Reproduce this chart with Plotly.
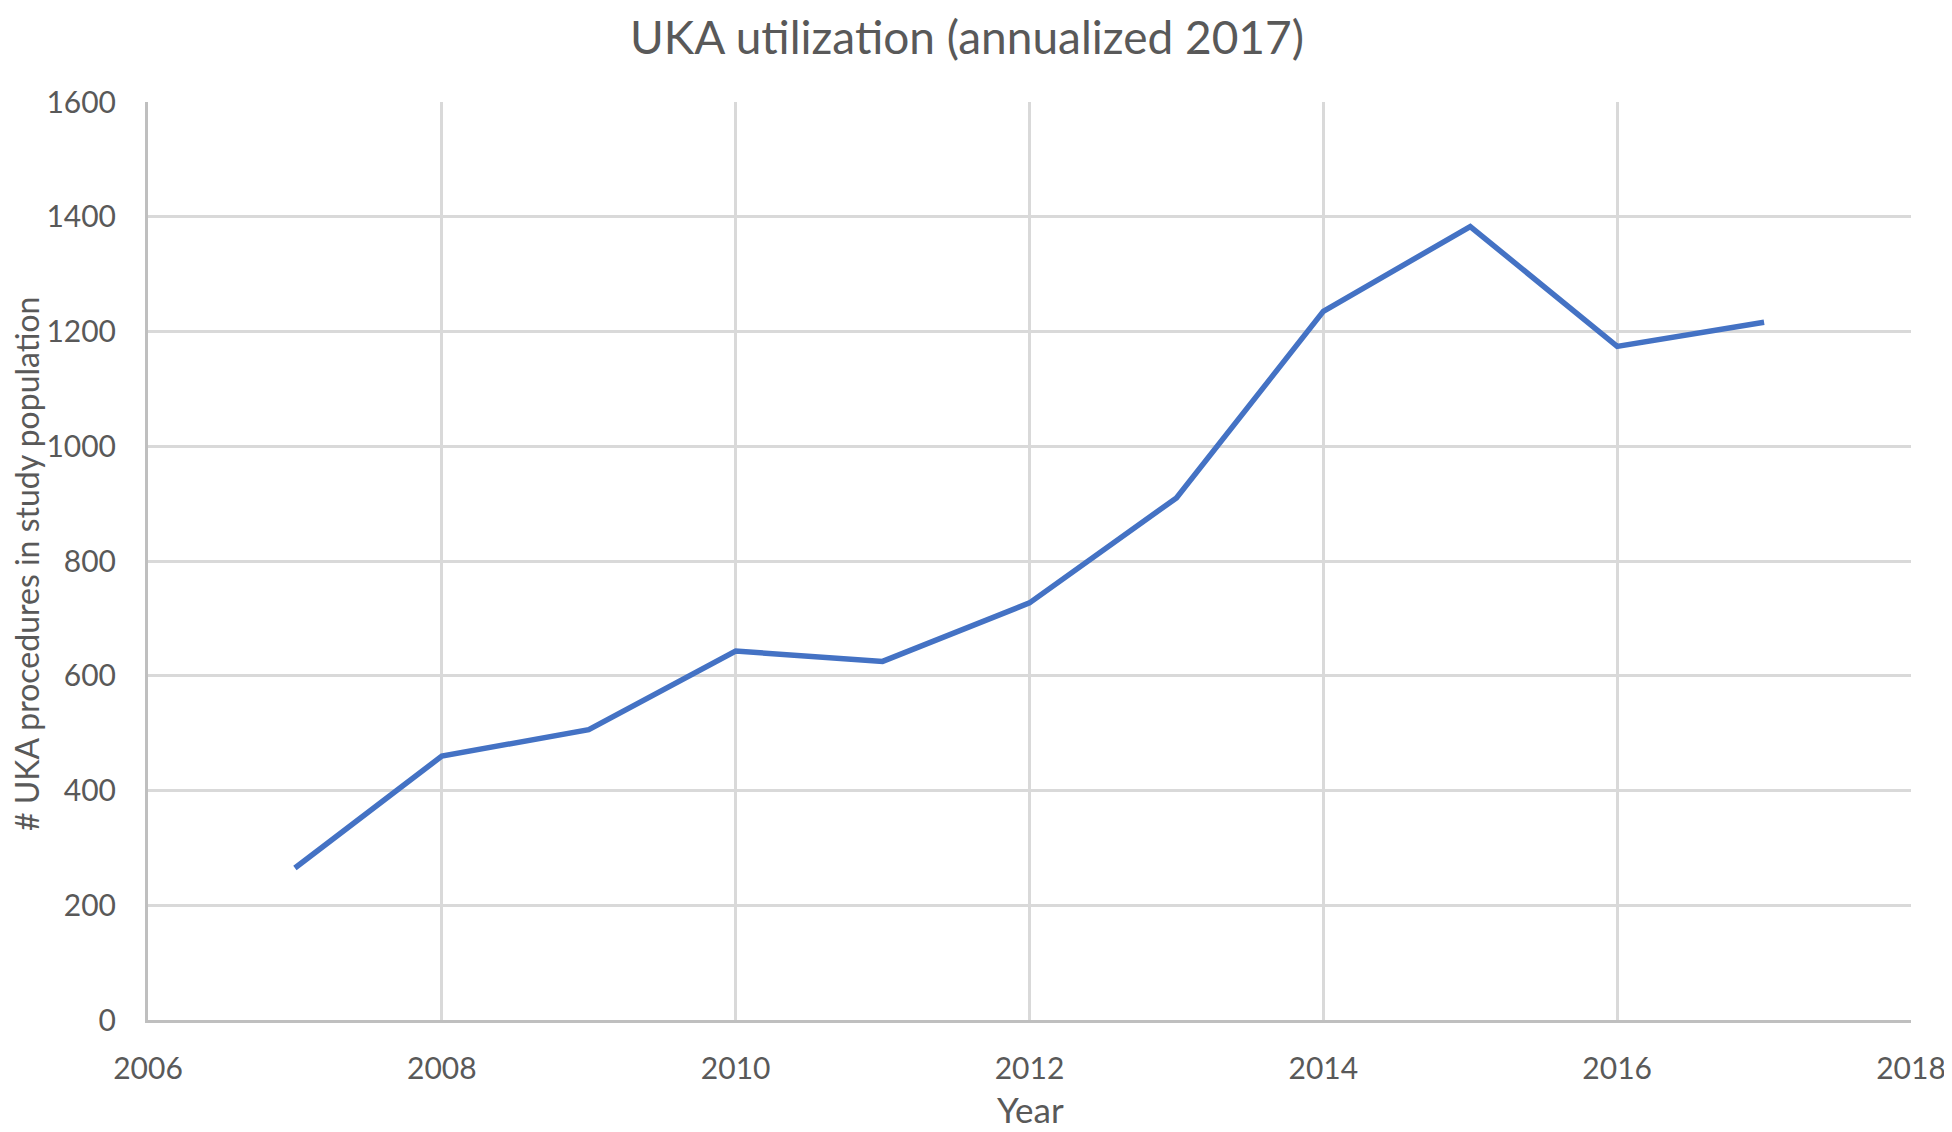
import plotly.graph_objects as go

years = [2007, 2008, 2009, 2010, 2011, 2012, 2013, 2014, 2015, 2016, 2017]
procedures = [265, 460, 506, 643, 625, 727, 910, 1235, 1383, 1174, 1216]

title_text = "UKA utilization (annualized 2017)"
x_title = "Year"
y_title = "# UKA procedures in study population"

font_family = "Lato, Open Sans, sans-serif"
txt_color = "#595959"
grid_color = "#d9d9d9"
axis_color = "#bfbfbf"

fig = go.Figure()
fig.add_trace(go.Scatter(
    x=years, y=procedures, mode="lines",
    line=dict(color="#4472c4", width=5.5),
    showlegend=False,
))

W, H = 1944, 1124
ML, MR, MT, MB = 140, 41, 94, 112
PW, PH = W - ML - MR, H - MT - MB

fig.update_layout(
    width=W, height=H,
    margin=dict(l=ML, r=MR, t=MT, b=MB, autoexpand=False),
    paper_bgcolor="white", plot_bgcolor="white",
    font=dict(family=font_family, color=txt_color, size=30),
    title=dict(text=title_text, x=959 / W, xanchor="center", y=1 - 30 / H, yanchor="middle",
               font=dict(size=46, color=txt_color, family=font_family)),
)

fig.add_annotation(
    text=x_title, xref="paper", yref="paper",
    x=(1022 - ML) / PW, y=1 - (1101 - MT) / PH,
    xanchor="center", yanchor="middle", showarrow=False,
    font=dict(size=35, color=txt_color, family=font_family),
)
fig.add_annotation(
    text=y_title, xref="paper", yref="paper", textangle=-90,
    x=(18 - ML) / PW, y=1 - (556 - MT) / PH,
    xanchor="center", yanchor="middle", showarrow=False,
    font=dict(size=32, color=txt_color, family=font_family),
)

fig.update_xaxes(
    range=[2006, 2018], dtick=2, tick0=2006,
    showgrid=True, gridcolor=grid_color, gridwidth=3,
    showline=True, linecolor=axis_color, linewidth=3,
    zeroline=False, ticks="", ticklabelstandoff=20,
    tickfont=dict(size=30, color=txt_color),
)
fig.update_yaxes(
    range=[0, 1600], dtick=200, tick0=0,
    showgrid=True, gridcolor=grid_color, gridwidth=3,
    showline=True, linecolor=axis_color, linewidth=3,
    zeroline=False, ticks="", ticklabelstandoff=23,
    tickfont=dict(size=30, color=txt_color),
)

fig.write_html("out.html")
